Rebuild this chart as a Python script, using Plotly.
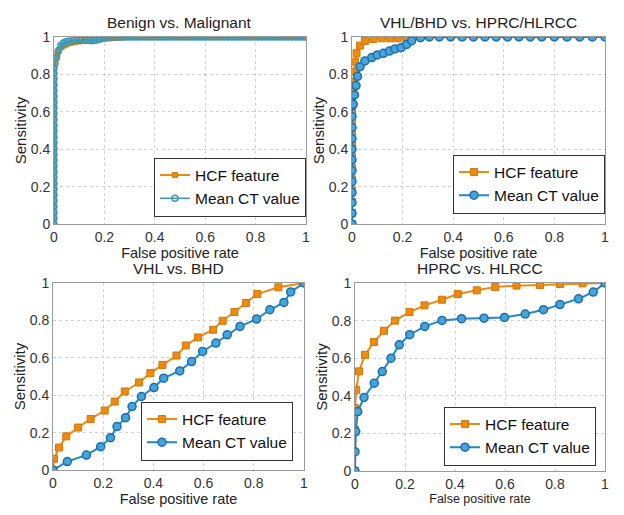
import plotly.graph_objects as go

titles = ["Benign vs. Malignant", "VHL/BHD vs. HPRC/HLRCC", "VHL vs. BHD", "HPRC vs. HLRCC"]
series_names = ["HCF feature", "Mean CT value"]
tick_vals = [0, 0.2, 0.4, 0.6, 0.8, 1]
tick_text = ["0", "0.2", "0.4", "0.6", "0.8", "1"]

# Panel 1: Benign vs. Malignant
p1_hcf_x = [0, 0, 0, 0, 0, 0, 0, 0, 0, 0, 0, 0, 0, 0, 0, 0, 0, 0, 0, 0, 0, 0, 0, 0, 0, 0, 0,
            0.003, 0.008, 0.014, 0.02, 0.03, 0.04, 0.05, 0.065, 0.08, 0.1, 0.12, 0.14, 0.16, 0.18, 0.2,
            0.22, 0.24, 0.26, 0.28, 0.3, 0.32, 0.34, 0.36, 0.38, 0.4, 0.42, 0.44, 0.46, 0.48, 0.5,
            0.52, 0.54, 0.56, 0.58, 0.6, 0.62, 0.64, 0.66, 0.68, 0.7, 0.72, 0.74, 0.76, 0.78, 0.8,
            0.82, 0.84, 0.86, 0.88, 0.9, 0.92, 0.94, 0.96, 0.98, 1.0]
p1_hcf_y = [0, 0.032, 0.064, 0.096, 0.128, 0.16, 0.192, 0.224, 0.256, 0.288, 0.32, 0.352, 0.384,
            0.416, 0.448, 0.48, 0.512, 0.544, 0.576, 0.608, 0.64, 0.672, 0.704, 0.736, 0.768, 0.8, 0.83,
            0.86, 0.89, 0.91, 0.93, 0.945, 0.955, 0.962, 0.968, 0.972, 0.976, 0.979, 0.982, 0.985, 0.988, 0.99,
            0.992, 0.994, 0.996, 0.998, 1, 1, 1, 1, 1, 1, 1, 1, 1, 1, 1,
            1, 1, 1, 1, 1, 1, 1, 1, 1, 1, 1, 1, 1, 1, 1,
            1, 1, 1, 1, 1, 1, 1, 1, 1, 1]
p1_ct_x = [0, 0, 0, 0, 0, 0, 0, 0, 0, 0, 0, 0, 0, 0, 0, 0, 0, 0, 0, 0, 0, 0, 0, 0, 0, 0, 0, 0,
           0.004, 0.01, 0.017, 0.027, 0.037, 0.047, 0.06, 0.075, 0.09, 0.105, 0.12, 0.135, 0.15, 0.165, 0.18, 0.195,
           0.21, 0.225, 0.24, 0.255, 0.27, 0.285, 0.3, 0.315, 0.33, 0.345, 0.36, 0.375, 0.39, 0.405, 0.42,
           0.435, 0.45, 0.465, 0.48, 0.495, 0.51, 0.525, 0.54, 0.555, 0.57, 0.585, 0.6, 0.615, 0.63,
           0.645, 0.66, 0.675, 0.69, 0.705, 0.72, 0.735, 0.75, 0.765, 0.78, 0.795, 0.81, 0.825, 0.84,
           0.855, 0.87, 0.885, 0.9, 0.915, 0.93, 0.945, 0.96, 0.975, 0.99, 1.0]
p1_ct_y = [0, 0.031, 0.062, 0.093, 0.124, 0.155, 0.186, 0.217, 0.248, 0.279, 0.31, 0.341, 0.372,
           0.403, 0.434, 0.465, 0.496, 0.527, 0.558, 0.589, 0.62, 0.651, 0.682, 0.713, 0.744, 0.775, 0.806, 0.835,
           0.86, 0.89, 0.925, 0.955, 0.968, 0.975, 0.978, 0.98, 0.981, 0.982, 0.982, 0.981, 0.98, 0.981, 0.986, 0.995,
           1, 1, 1, 1, 1, 1, 1, 1, 1, 1, 1, 1, 1, 1, 1,
           1, 1, 1, 1, 1, 1, 1, 1, 1, 1, 1, 1, 1, 1,
           1, 1, 1, 1, 1, 1, 1, 1, 1, 1, 1, 1, 1, 1,
           1, 1, 1, 1, 1, 1, 1, 1, 1, 1, 1]

# Panel 2: VHL/BHD vs. HPRC/HLRCC
p2_hcf_x = [0, 0, 0, 0, 0, 0, 0, 0, 0, 0, 0, 0, 0.003, 0.005, 0.008, 0.012, 0.018, 0.032, 0.051,
            0.084, 0.117, 0.15, 0.183, 0.216, 0.236]
p2_hcf_y = [0, 0.06, 0.12, 0.18, 0.24, 0.3, 0.36, 0.42, 0.48, 0.54, 0.6, 0.655, 0.71, 0.76, 0.815,
            0.868, 0.913, 0.954, 0.979, 0.989, 0.993, 0.993, 0.993, 0.996, 1.0]
p2_ct_x = [0, 0, 0, 0, 0, 0, 0, 0, 0, 0, 0, 0, 0.005, 0.01, 0.016, 0.022, 0.032, 0.051, 0.078,
           0.1, 0.124, 0.148, 0.17, 0.194, 0.216, 0.236, 0.271, 0.306, 0.345, 0.39, 0.435,
           0.48, 0.525, 0.57, 0.615, 0.66, 0.705, 0.75, 0.8, 0.85, 0.9, 0.95, 1.0]
p2_ct_y = [0, 0.057, 0.114, 0.168, 0.227, 0.286, 0.343, 0.4, 0.457, 0.516, 0.575, 0.632, 0.64, 0.69,
           0.74, 0.79, 0.841, 0.872, 0.89, 0.904, 0.913, 0.925, 0.936, 0.943, 0.96, 0.98, 0.996, 1,
           1, 1, 1, 1, 1, 1, 1, 1, 1, 1, 1, 1, 1, 1, 1]

# Panel 3: VHL vs. BHD
p3_hcf_x = [0, 0.004, 0.024, 0.053, 0.1, 0.15, 0.206, 0.246, 0.286, 0.343, 0.388, 0.436, 0.492,
            0.529, 0.578, 0.638, 0.676, 0.723, 0.769, 0.814, 0.898, 1.0]
p3_hcf_y = [0, 0.06, 0.12, 0.18, 0.227, 0.273, 0.318, 0.366, 0.42, 0.468, 0.518, 0.562, 0.612,
            0.666, 0.709, 0.75, 0.798, 0.845, 0.893, 0.941, 0.977, 1.0]
p3_ct_x = [0, 0.057, 0.133, 0.19, 0.229, 0.255, 0.289, 0.315, 0.352, 0.402, 0.441, 0.505, 0.552,
           0.596, 0.649, 0.694, 0.745, 0.811, 0.864, 0.92, 0.947, 1.0]
p3_ct_y = [0, 0.045, 0.08, 0.125, 0.173, 0.232, 0.28, 0.339, 0.393, 0.441, 0.491, 0.53, 0.58,
           0.634, 0.679, 0.723, 0.768, 0.807, 0.857, 0.896, 0.952, 1.0]

# Panel 4: HPRC vs. HLRCC
p4_hcf_x = [0, 0, 0, 0.005, 0.016, 0.04, 0.076, 0.116, 0.16, 0.218, 0.278, 0.348, 0.411, 0.487,
            0.561, 0.646, 0.74, 0.82, 0.91, 1.0]
p4_hcf_y = [0, 0.22, 0.334, 0.43, 0.53, 0.618, 0.686, 0.746, 0.8, 0.845, 0.881, 0.911, 0.941,
            0.961, 0.979, 0.986, 0.989, 0.995, 0.998, 1.0]
p4_ct_x = [0, 0, 0.003, 0.011, 0.036, 0.077, 0.109, 0.144, 0.177, 0.219, 0.279, 0.348, 0.426,
           0.516, 0.598, 0.681, 0.754, 0.82, 0.894, 0.953, 1.0]
p4_ct_y = [0, 0.103, 0.21, 0.316, 0.391, 0.467, 0.529, 0.6, 0.671, 0.725, 0.769, 0.801, 0.81,
           0.813, 0.817, 0.835, 0.858, 0.885, 0.916, 0.952, 1.0]

panels = [
    (p1_hcf_x, p1_hcf_y, p1_ct_x, p1_ct_y),
    (p2_hcf_x, p2_hcf_y, p2_ct_x, p2_ct_y),
    (p3_hcf_x, p3_hcf_y, p3_ct_x, p3_ct_y),
    (p4_hcf_x, p4_hcf_y, p4_ct_x, p4_ct_y),
]

W, H = 624, 515
# plot-area boxes in pixels: left, right, top, bottom
boxes = [(54, 306, 37, 224), (352, 605, 37, 224), (53, 304, 283, 470), (355, 605, 283, 471)]
# legend anchor (right, vertical centre) in pixels
legend_pos = [(306, 187), (605, 184), (293, 431), (596, 436)]

ORANGE = "#EC8A12"
BLUE = "#2288C8"
FONT = "Liberation Sans, Arial, sans-serif"

fig = go.Figure()
layout = dict(
    width=W, height=H, margin=dict(l=0, r=0, t=0, b=0),
    paper_bgcolor="white", plot_bgcolor="white",
    font=dict(family=FONT, color="#222"),
    annotations=[],
)

for i, (hx, hy, cx, cy) in enumerate(panels):
    n = i + 1
    xa = "x" if n == 1 else f"x{n}"
    ya = "y" if n == 1 else f"y{n}"
    lg = "legend" if n == 1 else f"legend{n}"
    small = (i == 0)
    fig.add_trace(go.Scatter(
        x=hx, y=hy, mode="lines+markers", name=series_names[0],
        line=dict(color=ORANGE, width=2),
        marker=dict(symbol="square", size=5 if small else 7, color=ORANGE,
                    line=dict(color="#D07808", width=1)),
        xaxis=xa, yaxis=ya, legend=lg, showlegend=True))
    if small:
        ct_marker = dict(symbol="circle-open", size=6, color="#3A9AB8", line=dict(width=1.5))
        ct_line = dict(color="#3A9AB8", width=1.5)
    else:
        ct_marker = dict(symbol="circle", size=8, color="#4AA3D8", line=dict(color="#1670B0", width=1.5))
        ct_line = dict(color=BLUE, width=2)
    fig.add_trace(go.Scatter(
        x=cx, y=cy, mode="lines+markers", name=series_names[1],
        line=ct_line, marker=ct_marker,
        xaxis=xa, yaxis=ya, legend=lg, showlegend=True))

    l, r, t, b = boxes[i]
    axis_common = dict(
        range=[0, 1], tickvals=tick_vals, ticktext=tick_text, automargin=False,
        showgrid=True, gridcolor="#CFCFCF", griddash="dot", gridwidth=1,
        showline=True, linecolor="#9A9A9A", linewidth=1, mirror=True,
        zeroline=False, ticks="", tickfont=dict(size=14, color="#333", family=FONT),
    )
    xtitle_size = 12.5 if n == 4 else 14.5
    layout["xaxis" if n == 1 else f"xaxis{n}"] = dict(
        axis_common, domain=[l / W, r / W], anchor=ya, ticklabelstandoff=0,
        title=dict(text="False positive rate", font=dict(size=xtitle_size, color="#222"), standoff=0),
    )
    layout["yaxis" if n == 1 else f"yaxis{n}"] = dict(
        axis_common, domain=[1 - b / H, 1 - t / H], anchor=xa, ticklabelstandoff=0,
        title=dict(text="Sensitivity", font=dict(size=15, color="#222"), standoff=0),
    )
    lx, lc = legend_pos[i]
    layout[lg] = dict(
        x=lx / W, y=1 - lc / H, xanchor="right", yanchor="middle",
        bgcolor="white", bordercolor="#333", borderwidth=1,
        font=dict(size=15.5, color="#111", family=FONT),
        tracegroupgap=0, itemwidth=30,
    )
    layout["annotations"].append(dict(
        text=titles[i], x=(l + r) / 2 / W, y=1 - (t - 15) / H, xref="paper", yref="paper",
        xanchor="center", yanchor="middle", showarrow=False,
        font=dict(size=15.5, color="#222", family=FONT)))

fig.update_layout(**layout)
fig.write_html("out.html", config={"displayModeBar": False},
               post_script="document.body.style.margin='0px';")
